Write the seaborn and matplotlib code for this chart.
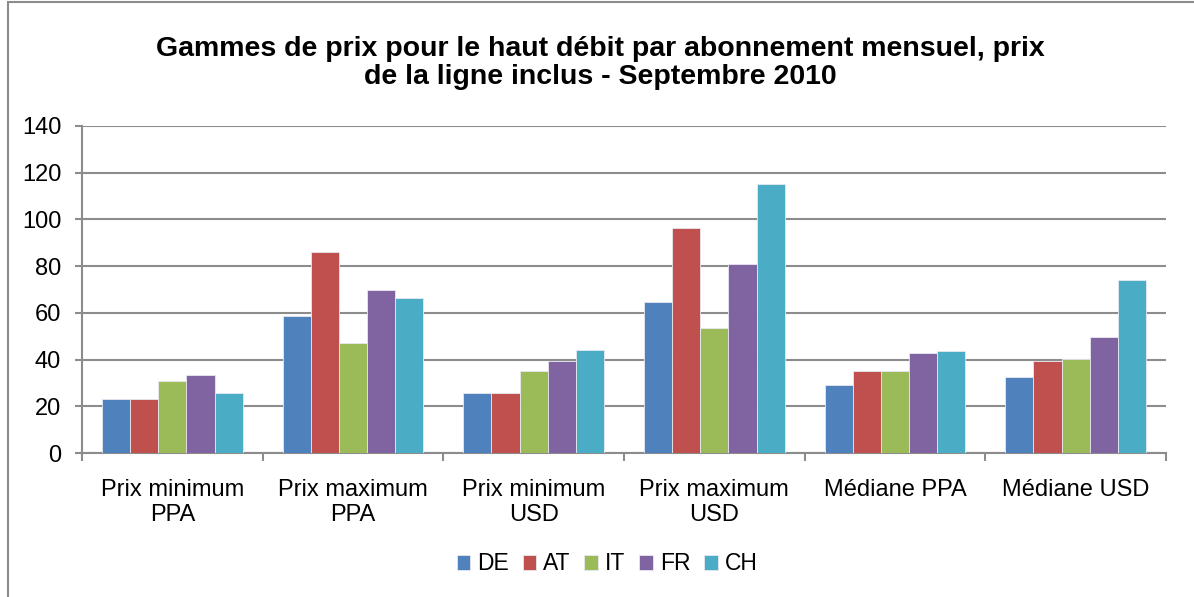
import numpy as np
import pandas as pd
import matplotlib
matplotlib.use("Agg")
import matplotlib.pyplot as plt
import seaborn as sns
from matplotlib.patches import Rectangle

categories = ["Prix minimum\nPPA", "Prix maximum\nPPA", "Prix minimum\nUSD",
              "Prix maximum\nUSD", "Médiane PPA", "Médiane USD"]
countries = ["DE", "AT", "IT", "FR", "CH"]
de = [23.2, 58.8, 25.6, 64.7, 29.1, 32.5]
at = [23.2, 86.0, 25.6, 96.2, 35.1, 39.4]
it = [30.8, 46.9, 35.1, 53.7, 35.1, 40.2]
fr = [33.4, 69.9, 39.4, 81.0, 42.6, 49.5]
ch = [25.7, 66.5, 44.3, 115.1, 43.6, 74.0]
colors = ["#4F81BD", "#C0504D", "#9BBB59", "#8064A2", "#4BACC6"]

rows = []
for country, vals in zip(countries, [de, at, it, fr, ch]):
    for cat, v in zip(categories, vals):
        rows.append({"cat": cat, "country": country, "value": v})
df = pd.DataFrame(rows)

sns.set_style("white")
plt.rcParams["font.family"] = ["Liberation Sans", "DejaVu Sans"]
plt.rcParams["text.color"] = "black"
plt.rcParams["xtick.color"] = "black"
plt.rcParams["ytick.color"] = "black"

fig = plt.figure(figsize=(11.94, 5.97), dpi=100)
ax = fig.add_axes([82 / 1194, 1 - 453 / 597, 1084 / 1194, 327 / 597])

sns.barplot(data=df, x="cat", y="value", hue="country", order=categories,
            hue_order=countries, palette=colors, saturation=1, width=0.78, gap=0,
            edgecolor="#E8E8F0", linewidth=0.6, ax=ax, zorder=3)

ax.set_ylim(0, 140)
ax.set_yticks(range(0, 141, 20))
ax.set_xlim(-0.5, 5.5)
ax.grid(axis="y", color="#8C8C8C", linewidth=1.5, zorder=0)
ax.set_axisbelow(True)
for s in ["top", "right"]:
    ax.spines[s].set_visible(False)
for s in ["left", "bottom"]:
    ax.spines[s].set_color("#8C8C8C")
    ax.spines[s].set_linewidth(1.5)
ax.set_xlabel("")
ax.set_ylabel("")
ax.tick_params(axis="y", labelsize=17, length=5, color="#8C8C8C", labelcolor="black",
               width=1.5, left=True, pad=10)
ax.tick_params(axis="x", labelsize=17, length=0, pad=19, labelcolor="black")
ax.set_xticks(np.arange(-0.5, 6.0, 1.0), minor=True)
ax.tick_params(axis="x", which="minor", length=6, color="#8C8C8C", width=1.5, bottom=True)
for lab in ax.get_xticklabels():
    lab.set_linespacing(1.15)

leg = ax.get_legend()
handles, labels = ax.get_legend_handles_labels()
leg.remove()
fig.legend(handles, labels, loc="center", bbox_to_anchor=(607 / 1194, 1 - 564 / 597),
           ncol=5, frameon=False, fontsize=16.5, handlelength=0.6, handleheight=0.6,
           handletextpad=0.3, columnspacing=0.6)

fig.text(600 / 1194, 1 - 63 / 597,
         "Gammes de prix pour le haut débit par abonnement mensuel, prix\nde la ligne inclus - Septembre 2010",
         ha="center", va="center", fontsize=20.5, fontweight="bold", linespacing=1.1)

fig.patches.append(Rectangle((8 / 1194, -0.1), 1.2, 1 - 2 / 597 + 0.1, transform=fig.transFigure,
                             fill=False, edgecolor="#8C8C8C", linewidth=1.5))

fig.savefig("out.png", dpi=100)
